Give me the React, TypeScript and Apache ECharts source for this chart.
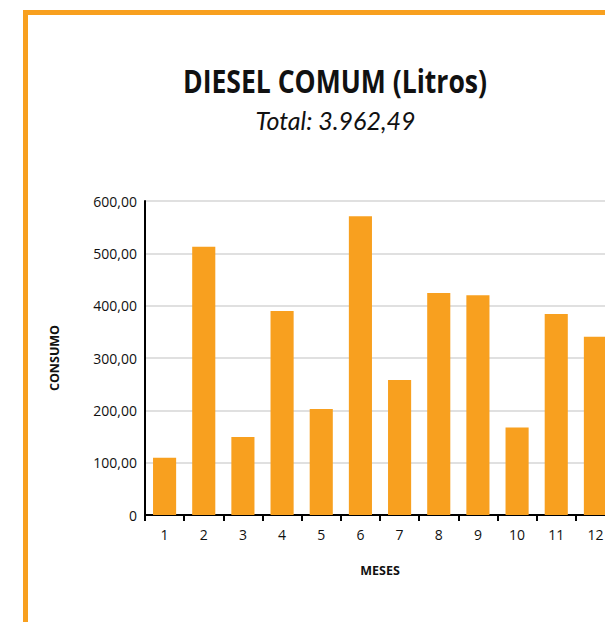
import React, { useEffect, useRef } from "react";
import * as echarts from "echarts";

const months = ["1", "2", "3", "4", "5", "6", "7", "8", "9", "10", "11", "12"];
const consumo = [109.5, 512.7, 149, 390, 202.6, 571, 258, 424, 420, 167, 384, 340.7];
const titleText = "DIESEL COMUM (Litros)";
const subtitleText = "Total: 3.962,49";
const orange = "#F8A01F";

export default function App() {
  const ref = useRef<HTMLDivElement>(null);
  useEffect(() => {
    const chart = echarts.init(ref.current!, null, { renderer: "svg" });
    chart.setOption({
      animation: false,
      backgroundColor: "#ffffff",
      textStyle: { fontFamily: "Open Sans" },
      graphic: [
        {
          type: "rect",
          shape: { x: 25.5, y: 12.5, width: 700, height: 700 },
          style: { fill: "none", stroke: orange, lineWidth: 5 },
          silent: true,
        },
        {
          type: "text",
          x: 335,
          y: 81.5,
          scaleX: 0.83,
          style: {
            text: titleText,
            fontFamily: "Open Sans",
            fontSize: 32,
            fontWeight: "bold",
            fill: "#111",
            textAlign: "center",
            textVerticalAlign: "middle",
          },
        },
        {
          type: "text",
          x: 335.5,
          y: 120.3,
          style: {
            text: subtitleText,
            fontFamily: "Lato",
            fontSize: 25,
            fontStyle: "italic",
            fill: "#111",
            textAlign: "center",
            textVerticalAlign: "middle",
          },
        },
      ],
      grid: { left: 145, top: 201, width: 470, height: 314, containLabel: false },
      xAxis: {
        type: "category",
        data: months,
        name: "MESES",
        nameLocation: "middle",
        nameGap: 48.5,
        nameTextStyle: { fontWeight: "bold", fontSize: 12.5, color: "#111" },
        axisLine: { lineStyle: { color: "#000", width: 2 } },
        axisTick: { show: true, length: 6, lineStyle: { color: "#000", width: 2 } },
        axisLabel: { color: "#111", fontSize: 14, margin: 12 },
      },
      yAxis: {
        type: "value",
        min: 0,
        max: 600,
        interval: 100,
        name: "CONSUMO",
        nameLocation: "middle",
        nameGap: 84,
        nameTextStyle: { fontWeight: "bold", fontSize: 12.5, color: "#111" },
        axisLine: { show: true, lineStyle: { color: "#000", width: 2 } },
        axisTick: { show: false },
        axisLabel: {
          color: "#111",
          fontSize: 14,
          margin: 8,
          formatter: (v: number) => (v === 0 ? "0" : v.toFixed(2).replace(".", ",")),
        },
        splitLine: { lineStyle: { color: "#E0E0E0", width: 2 } },
      },
      series: [
        {
          type: "bar",
          data: consumo,
          barWidth: "59%",
          itemStyle: { color: orange },
        },
      ],
    });
    return () => chart.dispose();
  }, []);
  return (
    <div style={{ position: "fixed", left: 0, top: 0, width: 605, height: 622, overflow: "hidden", background: "#fff" }}>
      <div ref={ref} style={{ width: 700, height: 700 }} />
    </div>
  );
}
